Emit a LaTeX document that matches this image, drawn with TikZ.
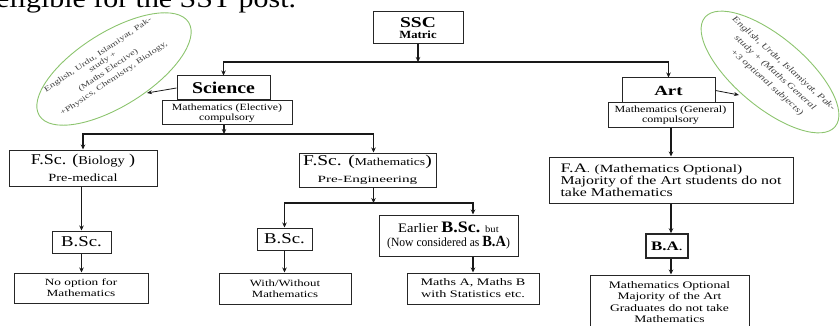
\documentclass[tikz,border=0pt]{standalone}
\usepackage{fontspec}
\usepackage{graphicx}
\setmainfont{Liberation Serif}
\usetikzlibrary{arrows.meta,shapes.geometric}
\newcommand\hx[3]{\scalebox{#1}[1]{\fontsize{#2}{#2}\selectfont #3}}
\definecolor{egreen}{RGB}{140,196,110}
\tikzset{
  box/.style={draw=black!85, line width=1pt, inner sep=0pt, align=center},
  arr/.style={-{Stealth[length=5pt,width=4.5pt]}, line width=1.1pt, draw=black!90},
  thinarr/.style={-{Stealth[length=5pt,width=4pt]}, line width=0.8pt, draw=black!90},
  oval/.style={ellipse, draw=egreen, line width=0.9pt, inner sep=0pt},
  ovaltext/.style={align=center, inner sep=0pt, text=black!75}
}
\begin{document}
\begin{tikzpicture}[x=1pt,y=-1pt]
\useasboundingbox (0,0) rectangle (840,326);
\clip (0,0) rectangle (840,326);

% partial heading at the top
\node[anchor=base west, inner sep=0pt] (title) at (-4,7.5) {\hx{1.15}{26}{eligible for the SST post.}};

% ovals
\node[oval, minimum width=176pt, minimum height=74pt, rotate=32] (lell) at (114,69) {};
\node[ovaltext, rotate=34, font=\fontsize{6}{8.5}\selectfont] (ltxt) at (106,67)
  {\hx{1.4}{7.5}{English, Urdu, Islamiyat, Pak-}\\\hx{1.4}{7.5}{study +}\\[1.5pt]\hx{1.4}{7.5}{(Maths Elective)}\\[1.5pt]\hx{1.4}{7.5}{+Physics, Chemistry, Biology,}};
\node[oval, minimum width=170pt, minimum height=70pt, rotate=-40] (rell) at (770,72) {};
\node[ovaltext, rotate=-42, font=\fontsize{6}{12.5}\selectfont\itshape] (rtxt) at (775,73)
  {\hx{1.3}{8.5}{English, Urdu, Islamiyat, Pak-}\\\hx{1.3}{8.5}{study + (Maths General}\\\hx{1.3}{8.5}{+3 optional subjects)}};

% boxes
\node[box, minimum width=90pt, minimum height=32pt, font=\fontsize{6}{11}\selectfont] (ssc) at (418,28)
  {\hx{1.3}{15}{\bfseries SSC}\\\hx{1.15}{11}{\bfseries Matric}};
\node[box, minimum width=93pt, minimum height=24pt] (sci) at (223.5,88)
  {\hx{1.2}{16.5}{\bfseries Science}};
\node[box, minimum width=130pt, minimum height=24pt, font=\fontsize{6}{10}\selectfont] (me) at (227,113)
  {\hx{1.24}{9.5}{Mathematics (Elective)}\\\hx{1.24}{9.5}{compulsory}};
\node[box, minimum width=93pt, minimum height=25pt] (art) at (668.5,90.5)
  {\hx{1.35}{14}{\bfseries Art}};
\node[box, minimum width=125pt, minimum height=25pt, font=\fontsize{6}{10}\selectfont] (mg) at (670.5,115.5)
  {\hx{1.27}{9.5}{Mathematics (General)}\\\hx{1.27}{9.5}{compulsory}};

\node[box, minimum width=148pt, minimum height=36pt, font=\fontsize{6}{17}\selectfont] (fscb) at (83,168)
  {\hx{1.2}{15}{F.Sc. ({\fontsize{12}{12}\selectfont Biology} )}\\\hx{1.3}{11}{Pre-medical}};
\node[box, minimum width=137pt, minimum height=34pt, font=\fontsize{6}{17}\selectfont] (fscm) at (367.5,170)
  {\hx{1.3}{15}{F.Sc. ({\fontsize{10.5}{10.5}\selectfont Mathematics})}\\\hx{1.6}{9.5}{Pre-Engineering}};

\node[box, minimum width=59pt, minimum height=22pt] (bsc1) at (81.5,242)
  {\hx{1.25}{15}{B.Sc.}};
\node[box, minimum width=134pt, minimum height=30pt, font=\fontsize{6}{11}\selectfont] (noopt) at (81,288)
  {\hx{1.4}{9.5}{No option for}\\\hx{1.4}{9.5}{Mathematics}};

\node[box, minimum width=55pt, minimum height=22pt] (bsc2) at (284.5,239)
  {\hx{1.25}{15}{B.Sc.}};
\node[box, minimum width=132pt, minimum height=31pt, font=\fontsize{6}{11}\selectfont] (ww) at (285,288.5)
  {\hx{1.35}{9.5}{With/Without}\\\hx{1.35}{9.5}{Mathematics}};

\node[box, minimum width=139pt, minimum height=41pt, font=\fontsize{6}{14}\selectfont] (earl) at (448.5,235.5)
  {\hx{1.12}{13}{Earlier {\fontsize{16}{16}\selectfont\bfseries B.Sc.} {\fontsize{9.5}{9.5}\selectfont but}}\\
   \hx{0.93}{12.5}{(Now considered as {\fontsize{15.5}{15.5}\selectfont\bfseries B.A})}};
\node[box, minimum width=132pt, minimum height=31pt, font=\fontsize{6}{12}\selectfont] (mab) at (473,288.5)
  {\hx{1.42}{10}{Maths A, Maths B}\\\hx{1.42}{10}{with Statistics etc.}};

\node[box, minimum width=244pt, minimum height=46pt, align=left, font=\fontsize{6}{12}\selectfont] (fa) at (671,180)
  {\hx{1.4}{13}{F.A{\fontsize{9}{9}\selectfont.} {\fontsize{11}{11}\selectfont(Mathematics Optional)}}\\
   \hx{1.32}{12}{Majority of the Art students do not}\\
   \hx{1.32}{12}{take Mathematics}};
\node[box, minimum width=42pt, minimum height=24pt, line width=1.5pt] (ba) at (667,246)
  {\hx{1.3}{13}{\textbf{B.A}.}};
\node[box, minimum width=159pt, minimum height=54pt, font=\fontsize{6}{11.3}\selectfont] (mo) at (669.5,302)
  {\hx{1.36}{10}{Mathematics Optional}\\\hx{1.36}{10}{Majority of the Art}\\\hx{1.36}{10}{Graduates do not take}\\\hx{1.36}{10}{Mathematics}};

% junctions
\coordinate (j1) at (418,62);
\coordinate (j2) at (224,134);
\coordinate (j3) at (373.5,203);
\coordinate (lend) at (147,93);
\coordinate (rend) at (739,95);

% connectors
\draw[arr] (ssc.south) -- (j1);
\draw[arr] (j1) -| (sci.north);
\draw[arr] (j1) -| (art.north);
\draw[thinarr] (sci.west) -- (lend);
\draw[thinarr] (art.east) -- (rend);

\draw[arr] (me.south -| j2) -- (j2);
\draw[arr] (j2) -| (fscb.north);
\draw[arr] (j2) -| ([xshift=6pt]fscm.north);

\draw[arr] (bsc1.north |- fscb.south) -- (bsc1.north);
\draw[arr] (bsc1.south) -- (bsc1.south |- noopt.north);

\draw[arr] ([xshift=6pt]fscm.south) -- (j3);
\draw[arr] (j3) -| (bsc2.north);
\draw[arr] (j3) -| (mab.north |- earl.north);
\draw[arr] (bsc2.south) -- (bsc2.south |- ww.north);
\draw[arr] (mab.north |- earl.south) -- (mab.north);

\draw[arr] (mg.south -| fa.south) -- (fa.north);
\draw[arr] (fa.south) -- (fa.south |- ba.north);
\draw[arr] (fa.south |- ba.south) -- (fa.south |- mo.north);
\end{tikzpicture}
\end{document}
